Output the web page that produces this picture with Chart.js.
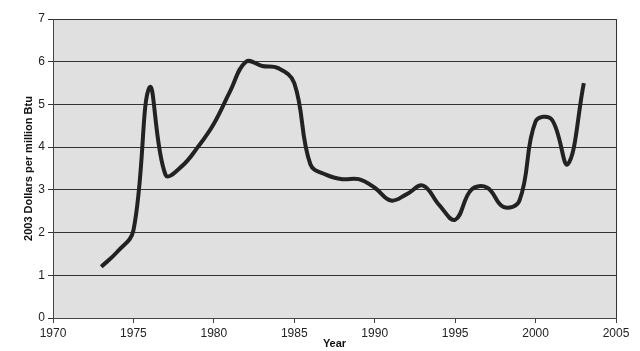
<!DOCTYPE html>
<html>
<head>
<meta charset="utf-8">
<script src="https://cdn.jsdelivr.net/npm/chart.js@4"></script>
<style>
  html, body { margin: 0; padding: 0; background: #fff; }
  #wrap { width: 640px; height: 351px; }
</style>
</head>
<body>
<div id="wrap"><canvas id="chart" width="640" height="351"></canvas></div>
<script>
const years = [1973, 1974, 1975, 1976, 1977, 1978, 1979, 1980, 1981, 1982,
               1983, 1984, 1985, 1986, 1987, 1988, 1989, 1990, 1991, 1992,
               1993, 1994, 1995, 1996, 1997, 1998, 1999, 2000, 2001, 2002, 2003];
const prices = [1.2, 1.55, 2.05, 5.4, 3.35, 3.55, 4.0, 4.55, 5.3, 6.0,
                5.9, 5.85, 5.5, 3.6, 3.35, 3.25, 3.25, 3.05, 2.75, 2.9,
                3.1, 2.65, 2.3, 3.0, 3.05, 2.6, 2.75, 4.6, 4.65, 3.6, 5.5];

// Gray fill behind the plot area, like the old spreadsheet look
const plotBackground = {
    id: 'plotBackground',
    beforeDraw(chart) {
        const { ctx, chartArea: a } = chart;
        ctx.save();
        ctx.fillStyle = '#e0e0e0';
        ctx.fillRect(a.left, a.top, a.right - a.left, a.bottom - a.top);
        ctx.restore();
    },
    afterDraw(chart) {
        const { ctx, chartArea: a } = chart;
        ctx.save();
        ctx.strokeStyle = '#333';
        ctx.lineWidth = 1;
        ctx.beginPath();
        ctx.moveTo(a.right + 0.5, a.top);
        ctx.lineTo(a.right + 0.5, a.bottom);
        ctx.stroke();
        ctx.restore();
    }
};

const tickFont = { family: 'Liberation Sans, Arial, sans-serif', size: 12 };
const titleFont = { family: 'Liberation Sans, Arial, sans-serif', size: 11, weight: 'bold' };

new Chart(document.getElementById('chart'), {
    type: 'line',
    data: {
        datasets: [{
            data: years.map((y, i) => ({ x: y, y: prices[i] })),
            borderColor: '#222',
            borderWidth: 4,
            pointRadius: 0,
            tension: 0.4,
            fill: false
        }]
    },
    options: {
        responsive: false,
        animation: false,
        layout: { padding: { top: 19, right: 24, left: 0, bottom: 0 } },
        plugins: { legend: { display: false }, tooltip: { enabled: false } },
        scales: {
            x: {
                type: 'linear',
                min: 1970,
                max: 2005,
                ticks: { stepSize: 5, color: '#222', font: tickFont, padding: 3, callback: v => String(v) },
                grid: { display: true, drawOnChartArea: false, color: '#444', tickLength: 5 },
                border: { color: '#444', width: 1 },
                title: { display: true, text: 'Year', color: '#111', font: titleFont, padding: { top: 0, bottom: 0 } },
                afterFit: s => { s.height = 33; }
            },
            y: {
                min: 0,
                max: 7,
                ticks: { stepSize: 1, color: '#222', font: tickFont, padding: 3 },
                grid: { color: '#333', lineWidth: 1, tickLength: 5 },
                border: { color: '#444', width: 1 },
                title: { display: true, text: '2003 Dollars per million Btu', color: '#111', font: titleFont, padding: { top: 22, bottom: 0 } },
                afterFit: s => { s.width = 53; }
            }
        }
    },
    plugins: [plotBackground]
});
</script>
</body>
</html>
